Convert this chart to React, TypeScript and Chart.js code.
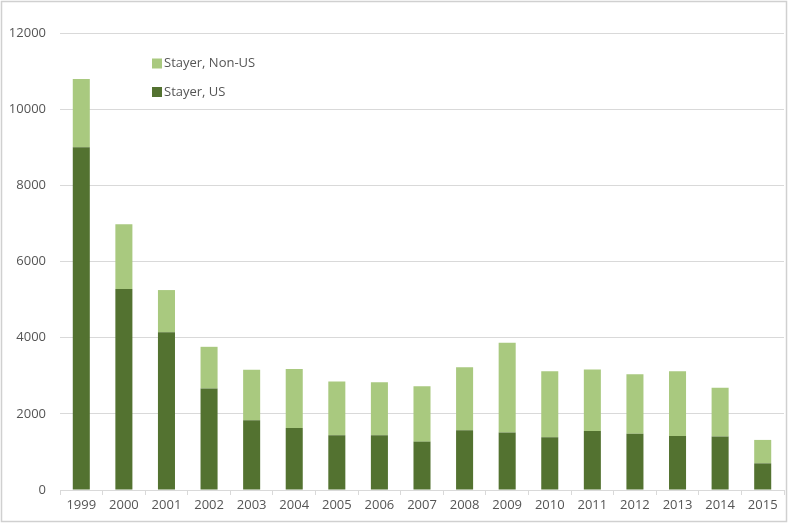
import React, { useEffect, useRef } from "react";
import { Chart, registerables } from "chart.js";

Chart.register(...registerables);

const years = ["1999", "2000", "2001", "2002", "2003", "2004", "2005", "2006", "2007", "2008", "2009", "2010", "2011", "2012", "2013", "2014", "2015"];
const stayerUS = [9000, 5280, 4140, 2665, 1830, 1630, 1440, 1440, 1270, 1570, 1510, 1385, 1550, 1475, 1420, 1405, 700];
const stayerNonUS = [1790, 1695, 1110, 1095, 1325, 1550, 1410, 1390, 1455, 1655, 2355, 1735, 1615, 1565, 1700, 1280, 615];
const yTicks = [0, 2000, 4000, 6000, 8000, 10000, 12000];

const FONT = "'Open Sans', 'Liberation Sans', sans-serif";
const TEXT = "#555555";
const GRID = "#d9d9d9";

const framePlugin = {
  id: "frame",
  beforeDraw(chart: any) {
    const { ctx, width, height } = chart;
    ctx.save();
    ctx.fillStyle = "#ffffff";
    ctx.fillRect(0, 0, width, height);
    ctx.strokeStyle = "#d0d0d0";
    ctx.lineWidth = 1.5;
    ctx.strokeRect(1.5, 1.5, width - 3, height - 3);
    ctx.restore();
  },
};

const insideLegend = {
  id: "insideLegend",
  afterDraw(chart: any) {
    const { ctx } = chart;
    const ds = [...chart.data.datasets].reverse();
    ctx.save();
    ctx.font = `13px ${FONT}`;
    ctx.textBaseline = "middle";
    ctx.textAlign = "left";
    ds.forEach((d: any, i: number) => {
      const cy = 63.5 + i * 28.5;
      ctx.fillStyle = d.backgroundColor;
      ctx.fillRect(152, cy - 5, 10, 10);
      ctx.fillStyle = TEXT;
      ctx.fillText(d.label, 164, cy);
    });
    ctx.restore();
  },
};

export default function App() {
  const ref = useRef<HTMLCanvasElement | null>(null);

  useEffect(() => {
    if (!ref.current) return;
    const chart = new Chart(ref.current, {
      type: "bar",
      data: {
        labels: years,
        datasets: [
          { label: "Stayer, US", data: stayerUS, backgroundColor: "#537230", barPercentage: 0.4, categoryPercentage: 1 },
          { label: "Stayer, Non-US", data: stayerNonUS, backgroundColor: "#a9c97f", barPercentage: 0.4, categoryPercentage: 1 },
        ],
      },
      options: {
        responsive: false,
        animation: false,
        devicePixelRatio: 1,
        layout: { padding: { left: 0, top: 33, right: 4, bottom: 0 } },
        plugins: { legend: { display: false }, tooltip: { enabled: false } },
        scales: {
          x: {
            stacked: true,
            afterFit(s: any) { s.height = 33; },
            grid: { display: true, drawOnChartArea: false, drawTicks: true, tickLength: 5, offset: true, color: GRID },
            border: { display: true, color: GRID },
            ticks: { color: TEXT, font: { family: FONT, size: 13 }, padding: 2, maxRotation: 0, autoSkip: false },
          },
          y: {
            stacked: true,
            min: 0,
            max: 12000,
            afterFit(s: any) { s.width = 60; },
            afterBuildTicks(s: any) { s.ticks = yTicks.map((v) => ({ value: v })); },
            grid: { color: GRID, drawTicks: false },
            border: { display: false },
            ticks: { color: TEXT, font: { family: FONT, size: 13 }, padding: 14, callback: (v: any) => String(v) },
          },
        },
      },
      plugins: [framePlugin, insideLegend],
    });
    return () => chart.destroy();
  }, []);

  return (
    <div style={{ position: "fixed", left: 0, top: 0, width: 788, height: 523 }}>
      <canvas ref={ref} width={788} height={523} />
    </div>
  );
}
